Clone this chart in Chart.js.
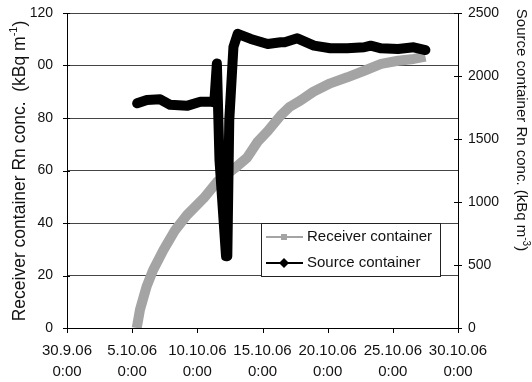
<!DOCTYPE html>
<html><head><meta charset="utf-8">
<script src="https://cdn.jsdelivr.net/npm/chart.js@4.4.0/dist/chart.umd.min.js"></script>
<style>html,body{margin:0;padding:0;background:#fff;}canvas{display:block;}</style>
</head><body><canvas id="c" width="532" height="382"></canvas>
<script>
// ---- data (x = days since 30.9.06 0:00) ----
const xTickLabels = ["30.9.06","5.10.06","10.10.06","15.10.06","20.10.06","25.10.06","30.10.06"];
const xTickTimes = ["0:00","0:00","0:00","0:00","0:00","0:00","0:00"];
const yLeftTickLabels = ["0","20","40","60","80","00","120"];
const yRightTickLabels = ["0","500","1000","1500","2000","2500"];
const seriesNames = ["Receiver container","Source container"];

const receiverDays   = [5.35, 5.6, 6.1, 6.6, 7.4, 8.3, 9.2, 10.5, 11.5, 12.9, 13.8, 14.6, 15.4, 16.4, 17.1, 17.9, 18.9, 20.2, 21.5, 22.8, 24.1, 25.4, 26.6, 27.5];
const receiverValues = [0, 7, 15.7, 22, 29.7, 37.3, 43, 49.5, 55.6, 61, 64.8, 70.8, 75, 81, 84.3, 86.6, 90, 93.2, 95.5, 98, 100.6, 101.8, 102.5, 103.4];

const sourceDays   = [5.38, 6.13, 7.15, 7.92, 9.2, 10.23, 11.0, 11.3, 11.5, 11.7, 12.2, 12.3, 12.45, 12.77, 13.1, 14.1, 15.4, 16.4, 16.7, 17.67, 18.95, 20.2, 21.5, 22.8, 23.3, 24.1, 25.4, 26.6, 27.5];
const sourceValues = [1783, 1810, 1815, 1771, 1763, 1796, 1796, 1790, 2100, 1333, 570, 570, 1650, 2230, 2335, 2294, 2254, 2268, 2268, 2299, 2241, 2220, 2220, 2228, 2241, 2220, 2214, 2228, 2206];

const leftTitle = ["Receiver container Rn conc.  (kBq m", "-1", ")"];
const rightTitle = ["Source container Rn conc. (kBq m", "-3", ")"];

const FONT = '"Liberation Sans", Arial, sans-serif';
const GRAY = '#a4a4a4';

function pts(xs, ys){ return xs.map((x,i)=>({x:x, y:ys[i]})); }

function rotText(ctx, cx, cy, ang, parts, size, supSize, supDy){
  ctx.save();
  ctx.translate(cx, cy); ctx.rotate(ang);
  ctx.textBaseline = 'middle'; ctx.textAlign = 'left';
  const fonts = parts.map((p,i)=> (i===1 ? supSize : size) + 'px ' + FONT);
  let widths = parts.map((p,i)=>{ ctx.font = fonts[i]; return ctx.measureText(p).width; });
  let total = widths.reduce((a,b)=>a+b,0);
  let x = -total/2;
  parts.forEach((p,i)=>{ ctx.font = fonts[i]; ctx.fillText(p, x, i===1 ? supDy : 0); x += widths[i]; });
  ctx.restore();
}

function fixPad(s){ s.paddingTop = 0; s.paddingBottom = 0; s.paddingLeft = 0; s.paddingRight = 0; }

const decor = {
  id: 'decor',
  afterDraw(chart){
    const ctx = chart.ctx, a = chart.chartArea;
    const xs = chart.scales.x, yl = chart.scales.y, yr = chart.scales.y2;
    ctx.save();
    ctx.strokeStyle = '#000'; ctx.lineWidth = 1;
    ctx.beginPath();
    xs.ticks.forEach(t=>{ const p = Math.round(xs.getPixelForValue(t.value))+0.5; ctx.moveTo(p, a.bottom); ctx.lineTo(p, a.bottom+5); });
    yl.ticks.forEach(t=>{ const p = Math.round(yl.getPixelForValue(t.value))+0.5; ctx.moveTo(a.left-4, p); ctx.lineTo(a.left+3, p); });
    yr.ticks.forEach(t=>{ const p = Math.round(yr.getPixelForValue(t.value))+0.5; ctx.moveTo(a.right-4, p); ctx.lineTo(a.right+4, p); });
    ctx.stroke();
    // axis titles
    ctx.fillStyle = '#111';
    rotText(ctx, 20, 171, -Math.PI/2, leftTitle, 17.5, 11, -6);
    rotText(ctx, 521, 130, Math.PI/2, rightTitle, 15, 10, -5);
    // legend
    const lx = 261.5, ly = 223.5, lw = 179, lh = 53;
    ctx.fillStyle = '#fff'; ctx.fillRect(lx, ly, lw, lh);
    ctx.strokeStyle = '#222'; ctx.lineWidth = 1; ctx.strokeRect(lx, ly, lw, lh);
    const rows = [237, 263];
    ctx.strokeStyle = GRAY; ctx.lineWidth = 2;
    ctx.beginPath(); ctx.moveTo(266, rows[0]); ctx.lineTo(303, rows[0]); ctx.stroke();
    ctx.fillStyle = GRAY; ctx.fillRect(281, rows[0]-3, 6, 6);
    ctx.strokeStyle = '#000'; ctx.lineWidth = 2;
    ctx.beginPath(); ctx.moveTo(266, rows[1]); ctx.lineTo(303, rows[1]); ctx.stroke();
    ctx.fillStyle = '#000'; ctx.beginPath();
    ctx.moveTo(284, rows[1]-5); ctx.lineTo(289, rows[1]); ctx.lineTo(284, rows[1]+5); ctx.lineTo(279, rows[1]); ctx.closePath(); ctx.fill();
    ctx.fillStyle = '#111'; ctx.font = '15px ' + FONT; ctx.textBaseline = 'middle'; ctx.textAlign = 'left';
    ctx.fillText(seriesNames[0], 307, rows[0]);
    ctx.fillText(seriesNames[1], 307, rows[1]);
    ctx.restore();
  }
};

new Chart(document.getElementById('c'), {
  type: 'line',
  data: {
    datasets: [
      { label: seriesNames[0], data: pts(receiverDays, receiverValues), yAxisID: 'y', order: 2,
        borderColor: GRAY, backgroundColor: GRAY, borderWidth: 10, pointRadius: 0, borderJoinStyle: 'round', borderCapStyle: 'butt', tension: 0 },
      { label: seriesNames[1], data: pts(sourceDays, sourceValues), yAxisID: 'y2', order: 1,
        borderColor: '#000', backgroundColor: '#000', borderWidth: 10, pointRadius: 0, borderJoinStyle: 'round', borderCapStyle: 'round', tension: 0 }
    ]
  },
  options: {
    responsive: false, animation: false,
    layout: { padding: { top: 13, left: 0, right: 0, bottom: 0 } },
    plugins: { legend: { display: false }, tooltip: { enabled: false } },
    scales: {
      x: { type: 'linear', min: 0, max: 30,
        afterFit(s){ s.height = 54; fixPad(s); },
        afterBuildTicks(s){ s.ticks = xTickLabels.map((_,i)=>({value: i*5})); },
        ticks: { padding: 12, maxRotation: 0, autoSkip: false, color: '#111',
          font: { family: FONT, size: 15, lineHeight: 1.4 },
          callback: (v, i) => [xTickLabels[i], xTickTimes[i]] },
        grid: { display: false, drawTicks: false },
        border: { display: true, color: '#000', width: 1 } },
      y: { position: 'left', min: 0, max: 120,
        afterFit(s){ s.width = 67; fixPad(s); },
        afterBuildTicks(s){ s.ticks = yLeftTickLabels.map((_,i)=>({value: i*20})); },
        ticks: { padding: 14, color: '#111', font: { family: FONT, size: 14 },
          callback: (v, i) => yLeftTickLabels[i] },
        grid: { color: '#444', lineWidth: 1, drawTicks: false },
        border: { display: true, color: '#000', width: 1 } },
      y2: { position: 'right', min: 0, max: 2500,
        afterFit(s){ s.width = 74; fixPad(s); },
        afterBuildTicks(s){ s.ticks = yRightTickLabels.map((t)=>({value: Number(t)})); },
        ticks: { padding: 10, color: '#111', font: { family: FONT, size: 14 },
          callback: (v, i) => yRightTickLabels[i] },
        grid: { drawOnChartArea: false, drawTicks: false },
        border: { display: true, color: '#000', width: 1 } }
    }
  },
  plugins: [decor]
});
</script>
</body></html>
